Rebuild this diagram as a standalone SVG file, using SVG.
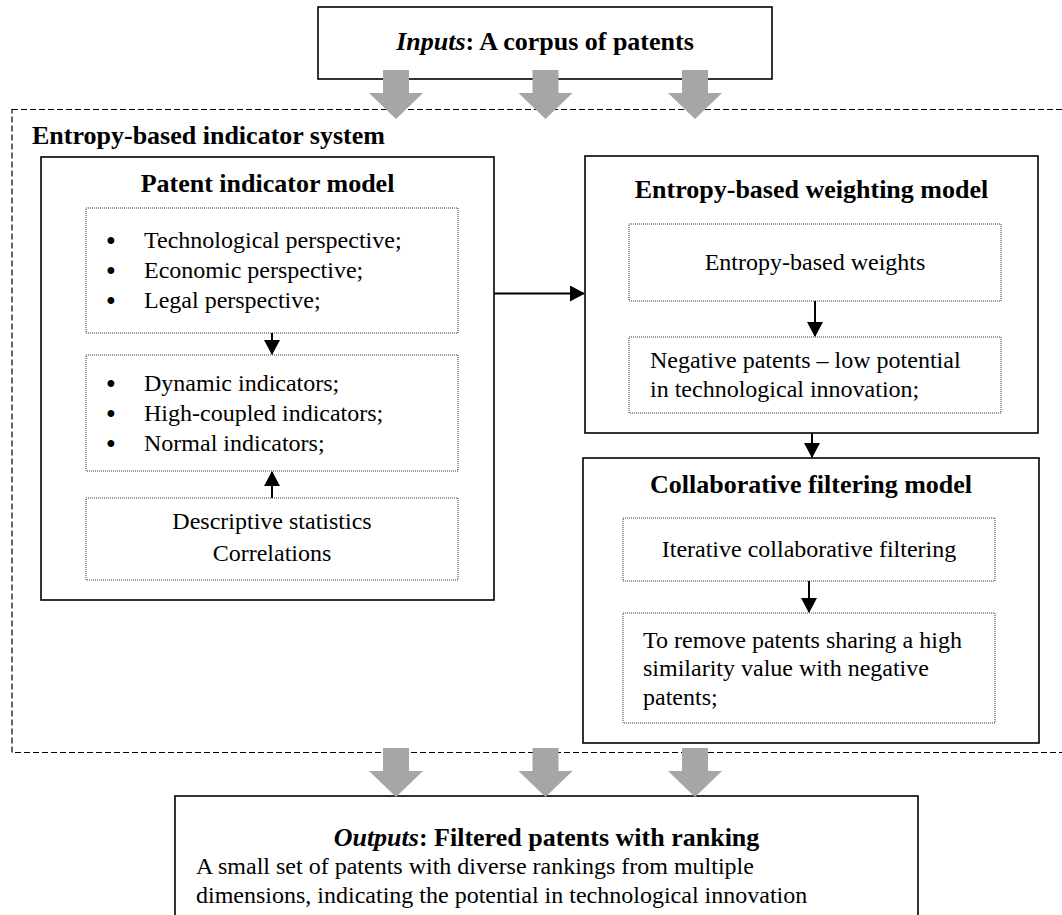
<svg xmlns="http://www.w3.org/2000/svg" width="1062" height="915" viewBox="0 0 1062 915">
<style>
text{font-family:"Liberation Serif","Times New Roman",serif;fill:#000}
.h{font-size:26px;font-weight:bold}
.b{font-size:24px}
.c{text-anchor:middle}
.bl{font-size:25px;font-weight:bold;text-anchor:middle}
.box{fill:#fff;stroke:#000;stroke-width:1.6}
.dot{fill:none;stroke:#333;stroke-width:1;stroke-dasharray:1 1}
.dash{fill:none;stroke:#000;stroke-width:1.2;stroke-dasharray:6 3}
.big{fill:#a6a6a6;stroke:none}
.ln{stroke:#000;stroke-width:2;fill:none}
</style>
<defs>
<marker id="ah" markerWidth="8" markerHeight="8" refX="7" refY="4" orient="auto" markerUnits="strokeWidth">
<path d="M0,0 L7.5,4 L0,8 z" fill="#000"/>
</marker>
</defs>
<rect class="dash" x="12" y="109.5" width="1060" height="643"/>
<g id="inputs">
<rect class="box" x="318" y="7" width="454" height="72"/>
<text class="h c" x="545" y="50"><tspan font-style="italic">Inputs</tspan>: A corpus of patents</text>
</g>
<text id="system-label" class="h" x="32" y="144">Entropy-based indicator system</text>
<g id="patent-indicator-model">
<rect class="box" x="41" y="157" width="453" height="443"/>
<text class="h c" x="267.5" y="192">Patent indicator model</text>
<rect class="dot" x="86" y="208" width="372" height="125"/>
<text class="bl" x="111" y="249">•</text><text class="b" x="144" y="248">Technological perspective;</text>
<text class="bl" x="111" y="279">•</text><text class="b" x="144" y="278">Economic perspective;</text>
<text class="bl" x="111" y="309">•</text><text class="b" x="144" y="308">Legal perspective;</text>
<rect class="dot" x="86" y="355" width="372" height="116"/>
<text class="bl" x="111" y="392">•</text><text class="b" x="144" y="391">Dynamic indicators;</text>
<text class="bl" x="111" y="422">•</text><text class="b" x="144" y="421">High-coupled indicators;</text>
<text class="bl" x="111" y="452">•</text><text class="b" x="144" y="451">Normal indicators;</text>
<rect class="dot" x="86" y="498" width="372" height="82"/>
<text class="b c" x="272" y="529">Descriptive statistics</text>
<text class="b c" x="272" y="561">Correlations</text>
</g>
<g id="weighting-model">
<rect class="box" x="585" y="156" width="453" height="277"/>
<text class="h c" x="811.5" y="198">Entropy-based weighting model</text>
<rect class="dot" x="629" y="224" width="372" height="77"/>
<text class="b c" x="815" y="270">Entropy-based weights</text>
<rect class="dot" x="629" y="337" width="372" height="76"/>
<text class="b" x="650" y="368">Negative patents – low potential</text>
<text class="b" x="650" y="397">in technological innovation;</text>
</g>
<g id="collaborative-filtering-model">
<rect class="box" x="583" y="458" width="456" height="285"/>
<text class="h c" x="811" y="493">Collaborative filtering model</text>
<rect class="dot" x="623" y="518" width="372" height="63"/>
<text class="b c" x="809" y="557">Iterative collaborative filtering</text>
<rect class="dot" x="623" y="613" width="372" height="110"/>
<text class="b" x="643" y="648">To remove patents sharing a high</text>
<text class="b" x="643" y="676">similarity value with negative</text>
<text class="b" x="643" y="705">patents;</text>
</g>
<g id="outputs">
<rect class="box" x="175" y="796" width="743" height="130"/>
<text class="h c" x="546.5" y="846"><tspan font-style="italic">Outputs</tspan>: Filtered patents with ranking</text>
<text class="b" x="196" y="874">A small set of patents with diverse rankings from multiple</text>
<text class="b" x="196" y="903">dimensions, indicating the potential in technological innovation</text>
</g>
<g id="connectors">
<path class="big" d="M383,70 H409 V93 H423 L396,119 L369,93 H383 Z"/>
<path class="big" d="M532.5,70 H558.5 V93 H572.5 L545.5,119 L518.5,93 H532.5 Z"/>
<path class="big" d="M682,70 H708 V93 H722 L695,119 L668,93 H682 Z"/>
<path class="big" d="M383,748 H409 V771 H423 L396,797 L369,771 H383 Z"/>
<path class="big" d="M532.5,748 H558.5 V771 H572.5 L545.5,797 L518.5,771 H532.5 Z"/>
<path class="big" d="M682,748 H708 V771 H722 L695,797 L668,771 H682 Z"/>
<line class="ln" x1="272" y1="333" x2="272" y2="354" marker-end="url(#ah)"/>
<line class="ln" x1="272" y1="498" x2="272" y2="472" marker-end="url(#ah)"/>
<line class="ln" x1="494" y1="293.5" x2="584" y2="293.5" marker-end="url(#ah)"/>
<line class="ln" x1="815" y1="301" x2="815" y2="336" marker-end="url(#ah)"/>
<line class="ln" x1="812" y1="433" x2="812" y2="457" marker-end="url(#ah)"/>
<line class="ln" x1="809" y1="581" x2="809" y2="612" marker-end="url(#ah)"/>
</g>
</svg>
